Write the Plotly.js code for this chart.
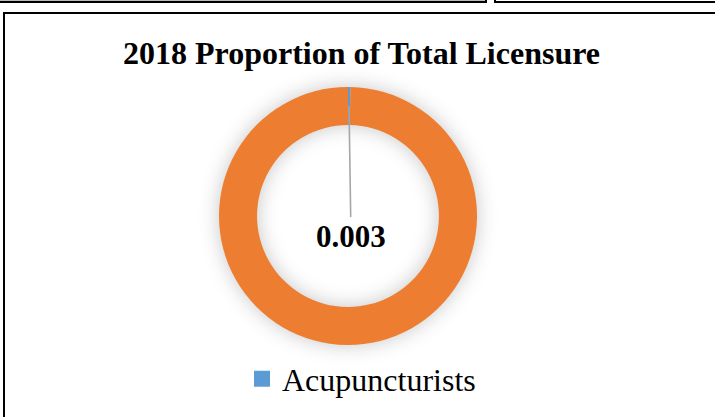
<!DOCTYPE html>
<html>
<head>
<meta charset="utf-8">
<script src="https://cdn.plot.ly/plotly-3.0.1.min.js"></script>
<style>
  html, body { margin: 0; padding: 0; background: #fff; }
  #wrap { position: relative; width: 715px; height: 417px; overflow: hidden; background: #fff; }
  #chart { position: absolute; left: 0; top: 0; width: 715px; height: 417px; }
  .frame { position: absolute; box-sizing: border-box; pointer-events: none; }
  #chart .pielayer { filter: drop-shadow(0 0 10px rgba(0,0,0,0.22)); }
</style>
</head>
<body>
<div id="wrap">
  <div class="frame" style="left:-5px; top:-20px; width:492px; height:23px; border:2px solid #000; border-top:none; box-shadow: 0 0 0 1px #bbb inset;"></div>
  <div class="frame" style="left:494px; top:-20px; width:240px; height:23px; border:2px solid #000;"></div>
  <div id="chart"></div>
  <div class="frame" style="left:3px; top:12px; width:730px; height:420px; border-left:2px solid #000; border-top:2px solid #000;"></div>
</div>
<script>
// Data
const categories = ["Acupuncturists", "Other licensees"];
const proportions = [0.003, 0.997];
const sliceColors = ["#5b9bd5", "#ed7d31"];
const chartTitle = "2018 Proportion of Total Licensure";
const legendLabels = ["Acupuncturists"];

const W = 715, H = 417;
// pie geometry (pixels)
const cx = 348, cy = 216, R = 129, hole = 0.705;

const pie = {
  type: "pie",
  labels: categories,
  values: proportions,
  sort: false,
  direction: "clockwise",
  rotation: 0,
  hole: hole,
  textinfo: "none",
  hoverinfo: "label+value",
  marker: { colors: sliceColors, line: { width: 0 } },
  showlegend: false,
  domain: { x: [(cx - R) / W, (cx + R) / W], y: [1 - (cy + R) / H, 1 - (cy - R) / H] }
};

const legendDummy = {
  type: "scatter",
  mode: "markers",
  x: [0], y: [0],
  name: legendLabels[0],
  marker: { symbol: "square", size: 20, color: sliceColors[0] },
  showlegend: true,
  hoverinfo: "skip"
};

// label leader: from mid-ring of first slice to the centre label
const midR = R * (1 + hole) / 2;
const tipX = cx + 1, tipY = cy - midR;

const layout = {
  width: W, height: H,
  margin: { l: 0, r: 0, t: 0, b: 0 },
  paper_bgcolor: "rgba(0,0,0,0)",
  plot_bgcolor: "rgba(0,0,0,0)",
  font: { family: "Liberation Serif, Times New Roman, serif", color: "#000" },
  title: {
    text: "<b>" + chartTitle + "</b>",
    font: { family: "Liberation Serif, Times New Roman, serif", size: 32, color: "#000" },
    x: 361.5 / W, xanchor: "center",
    y: 1 - 53 / H, yanchor: "middle",
    xref: "paper", yref: "paper"
  },
  xaxis: { visible: false, range: [1, 2], fixedrange: true },
  yaxis: { visible: false, range: [1, 2], fixedrange: true },
  showlegend: true,
  legend: {
    orientation: "h",
    x: 242 / W, xanchor: "left",
    y: 1 - 379 / H, yanchor: "middle",
    font: { family: "Liberation Serif, Times New Roman, serif", size: 32, color: "#000" },
    bgcolor: "rgba(0,0,0,0)",
    itemwidth: 30
  },
  annotations: [{
    text: "<b>" + String(proportions[0]) + "</b>",
    xref: "paper", yref: "paper",
    x: tipX / W, y: 1 - tipY / H,
    showarrow: true, arrowhead: 0, arrowwidth: 1.6, arrowcolor: "#a6a6a6",
    ax: 2, ay: 236 - tipY,
    standoff: 0,
    font: { family: "Liberation Serif, Times New Roman, serif", size: 31, color: "#000" }
  }]
};

Plotly.newPlot("chart", [pie, legendDummy], layout, { displayModeBar: false, staticPlot: true });
</script>
</body>
</html>
